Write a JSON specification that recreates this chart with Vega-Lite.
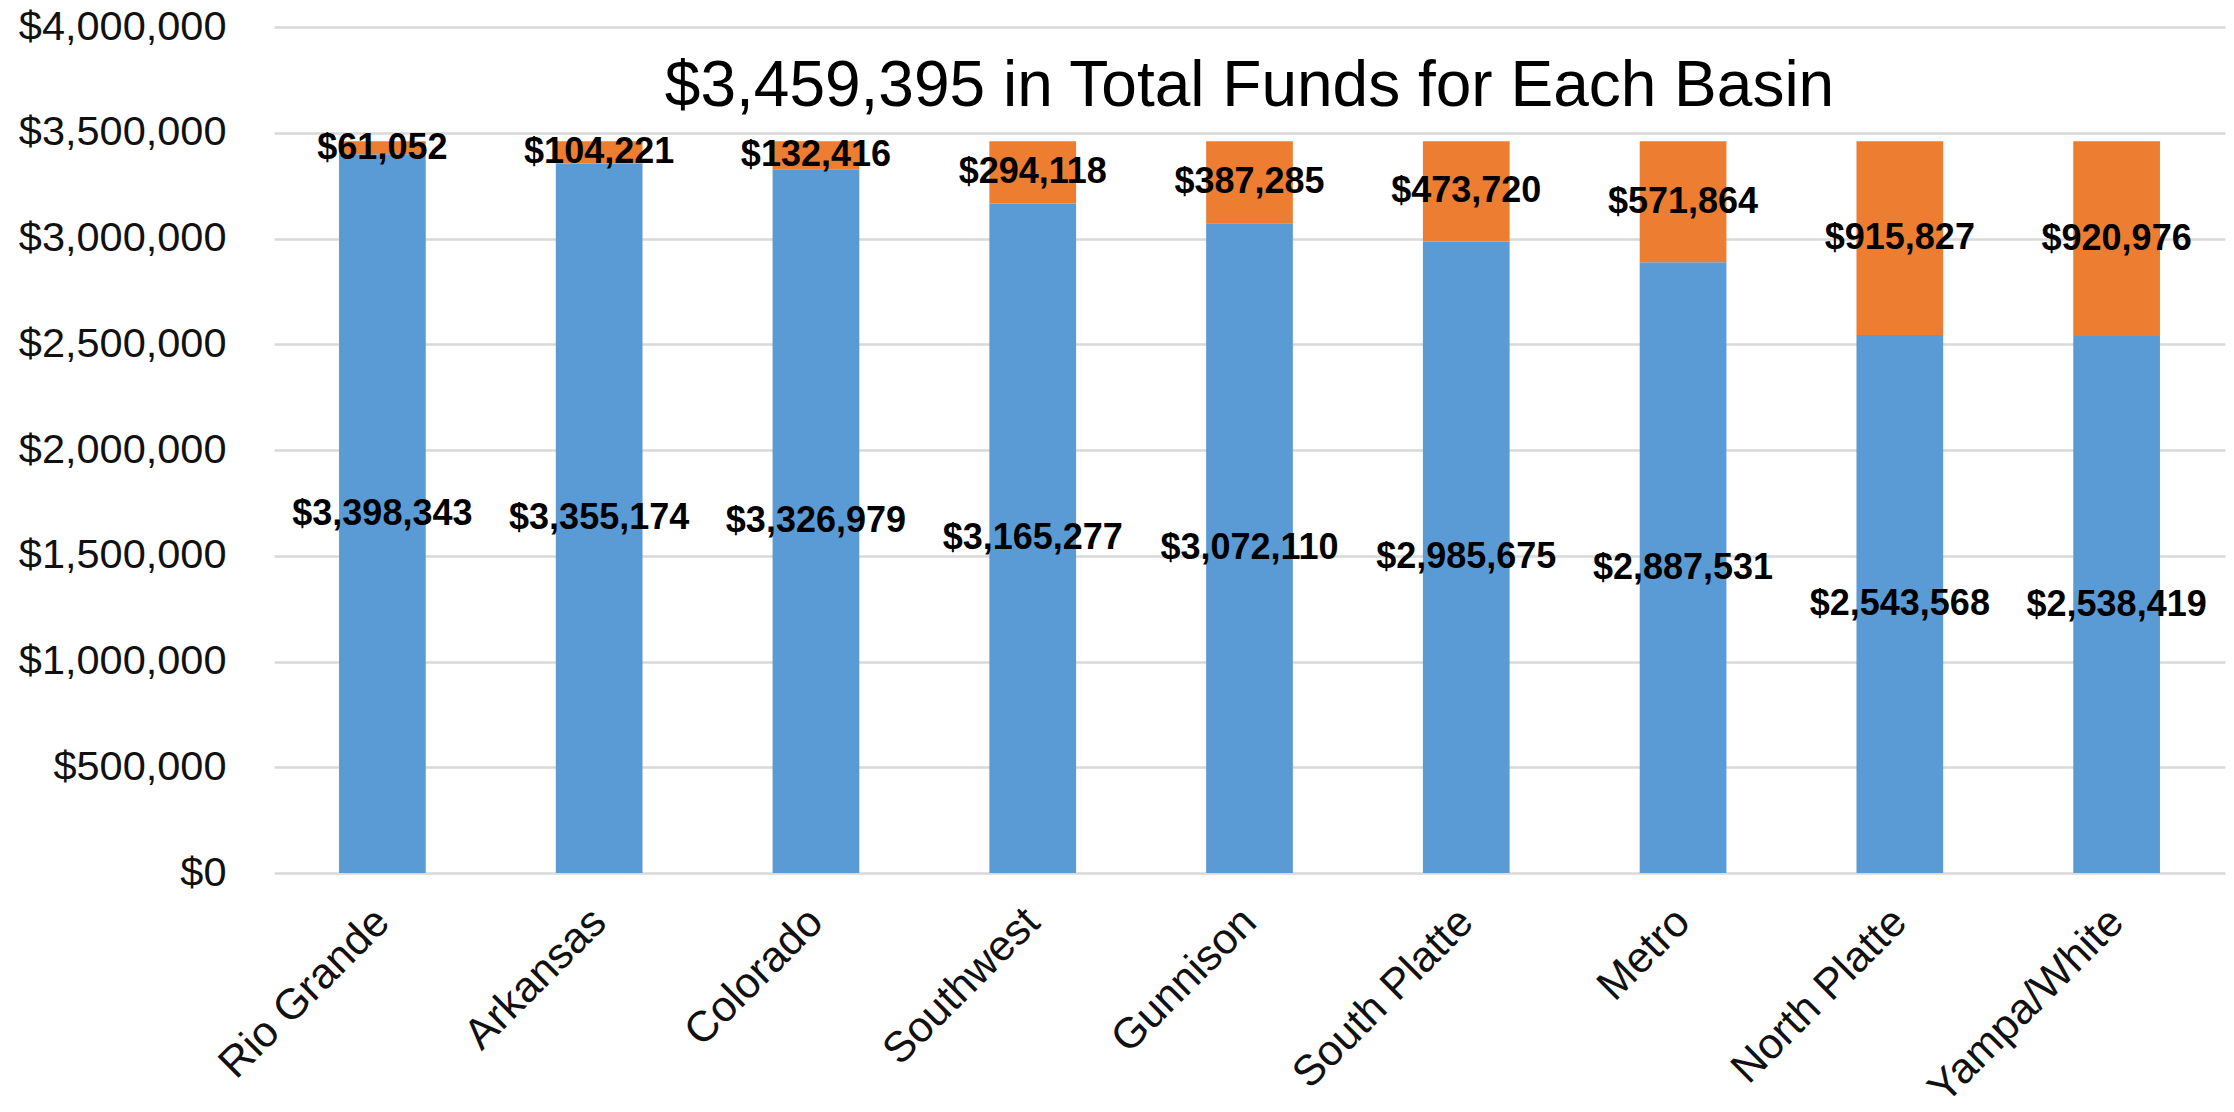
{
  "$schema": "https://vega.github.io/schema/vega-lite/v6.json",
  "width": 1951,
  "height": 846,
  "autosize": "none",
  "padding": {"left": 274, "top": 27, "right": 9, "bottom": 239},
  "background": "white",
  "config": {
    "view": {"stroke": null},
    "font": "Liberation Sans"
  },
  "title": {
    "text": "$3,459,395 in Total Funds for Each Basin",
    "fontSize": 64,
    "fontWeight": "normal",
    "color": "#000000",
    "anchor": "middle",
    "frame": "group",
    "offset": -113
  },
  "data": {
    "values": [
      {"basin": "Rio Grande", "segment": "Allocation", "amount": 3398343},
      {"basin": "Rio Grande", "segment": "Supplement", "amount": 61052},
      {"basin": "Arkansas", "segment": "Allocation", "amount": 3355174},
      {"basin": "Arkansas", "segment": "Supplement", "amount": 104221},
      {"basin": "Colorado", "segment": "Allocation", "amount": 3326979},
      {"basin": "Colorado", "segment": "Supplement", "amount": 132416},
      {"basin": "Southwest", "segment": "Allocation", "amount": 3165277},
      {"basin": "Southwest", "segment": "Supplement", "amount": 294118},
      {"basin": "Gunnison", "segment": "Allocation", "amount": 3072110},
      {"basin": "Gunnison", "segment": "Supplement", "amount": 387285},
      {"basin": "South Platte", "segment": "Allocation", "amount": 2985675},
      {"basin": "South Platte", "segment": "Supplement", "amount": 473720},
      {"basin": "Metro", "segment": "Allocation", "amount": 2887531},
      {"basin": "Metro", "segment": "Supplement", "amount": 571864},
      {"basin": "North Platte", "segment": "Allocation", "amount": 2543568},
      {"basin": "North Platte", "segment": "Supplement", "amount": 915827},
      {"basin": "Yampa/White", "segment": "Allocation", "amount": 2538419},
      {"basin": "Yampa/White", "segment": "Supplement", "amount": 920976}
    ]
  },
  "transform": [
    {"stack": "amount", "groupby": ["basin"], "sort": [{"field": "segment", "order": "ascending"}], "as": ["lo", "hi"]}
  ],
  "encoding": {
    "x": {
      "field": "basin",
      "type": "nominal",
      "sort": null,
      "scale": {"paddingInner": 0.6, "paddingOuter": 0.3},
      "axis": {
        "title": null,
        "labelAngle": -45,
        "labelAlign": "right",
        "labelBaseline": "middle",
        "labelFontSize": 43,
        "labelColor": "#111111",
        "labelPadding": 42,
        "labelLimit": 1000,
        "ticks": false,
        "domain": false,
        "grid": false
      }
    }
  },
  "layer": [
    {
      "mark": {"type": "bar"},
      "encoding": {
        "y": {
          "field": "lo",
          "type": "quantitative",
          "scale": {"domain": [0, 4000000], "nice": false},
          "axis": {
            "title": null,
            "values": [0, 500000, 1000000, 1500000, 2000000, 2500000, 3000000, 3500000, 4000000],
            "format": "$,.0f",
            "labelFontSize": 41.5,
            "labelColor": "#111111",
            "labelPadding": 48,
            "labelLimit": 1000,
            "ticks": false,
            "domain": false,
            "grid": true,
            "gridColor": "#d9d9d9",
            "gridWidth": 2.5
          }
        },
        "y2": {"field": "hi"},
        "color": {
          "field": "segment",
          "type": "nominal",
          "scale": {"domain": ["Allocation", "Supplement"], "range": ["#5b9bd5", "#ed7d31"]},
          "legend": null
        }
      }
    },
    {
      "transform": [
        {"fold": ["lo", "hi"], "as": ["edge", "pos"]},
        {"aggregate": [{"op": "mean", "field": "pos", "as": "mid"}], "groupby": ["basin", "segment", "amount"]}
      ],
      "mark": {"type": "text", "fontSize": 36, "fontWeight": "bold", "color": "#000000", "baseline": "middle", "align": "center"},
      "encoding": {
        "y": {"field": "mid", "type": "quantitative"},
        "text": {"field": "amount", "type": "quantitative", "format": "$,.0f"}
      }
    }
  ]
}
